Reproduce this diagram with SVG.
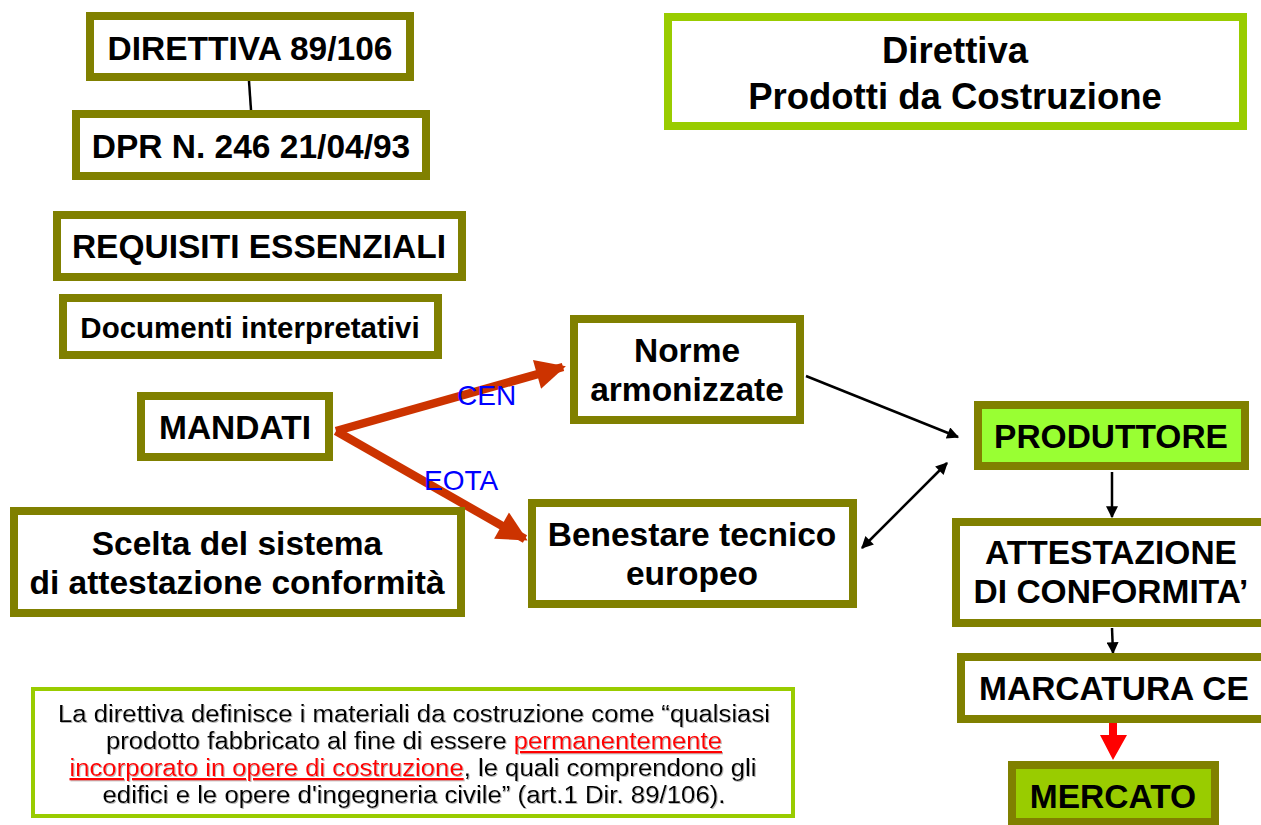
<svg xmlns="http://www.w3.org/2000/svg" width="1261" height="825" viewBox="0 0 1261 825">
<defs>
<style>
.box{fill:#fff;stroke:#808000;stroke-width:8}
.tb{font-family:"Liberation Sans",Arial,sans-serif;font-weight:bold;font-size:33.5px;fill:#000;text-anchor:middle}
.lbl{font-family:"Liberation Sans",Arial,sans-serif;font-size:28px;fill:#0000FF}
.note{font-family:"Liberation Sans",Arial,sans-serif;font-size:23.5px;fill:#000;text-anchor:middle}
.red{fill:#FF0000;text-decoration:underline}
.blk{stroke:#000;stroke-width:2.5;fill:none}
.rarrow{stroke:#CC3300;stroke-width:8.5;fill:none}
</style>
<marker id="ah" viewBox="0 0 10 10" refX="9" refY="5" markerWidth="14" markerHeight="12" markerUnits="userSpaceOnUse" orient="auto-start-reverse">
<path d="M0,0 L10,5 L0,10 z" fill="#000"/>
</marker>
<marker id="rah" viewBox="0 0 10 10" refX="9" refY="5" markerWidth="34" markerHeight="30" markerUnits="userSpaceOnUse" orient="auto">
<path d="M0,0 L10,5 L0,10 z" fill="#CC3300"/>
</marker>
<filter id="sh" x="-5%" y="-20%" width="110%" height="140%">
<feDropShadow dx="1" dy="1" stdDeviation="0.6" flood-color="#999" flood-opacity="0.7"/>
</filter>
</defs>
<rect width="1261" height="825" fill="#fff"/>

<g id="connectors">
<line class="blk" x1="249" y1="81" x2="251" y2="110"/>
<line class="blk" x1="806" y1="376" x2="958" y2="437" marker-end="url(#ah)"/>
<line class="blk" x1="862" y1="548" x2="947" y2="463" marker-start="url(#ah)" marker-end="url(#ah)"/>
<line class="blk" x1="1112" y1="472" x2="1112" y2="517" marker-end="url(#ah)"/>
<line class="blk" x1="1112" y1="628" x2="1113" y2="653" marker-end="url(#ah)"/>
<line class="rarrow" x1="336" y1="431" x2="563" y2="367" marker-end="url(#rah)"/>
<line class="rarrow" x1="336" y1="431" x2="525" y2="539" marker-end="url(#rah)"/>
<path d="M1109,723 H1117 V735 H1127 L1113,760 L1100,735 H1109 Z" fill="#FF0000"/>
<text class="lbl" x="457" y="405">CEN</text>
<text class="lbl" x="424" y="490">EOTA</text>
</g>

<g id="direttiva">
<rect class="box" x="90" y="16" width="320" height="61"/>
<text class="tb" x="250" y="60">DIRETTIVA 89/106</text>
</g>
<g id="dpr">
<rect class="box" x="76" y="114" width="350" height="62"/>
<text class="tb" x="251" y="158">DPR N. 246 21/04/93</text>
</g>
<g id="requisiti">
<rect class="box" x="57" y="215" width="405" height="62"/>
<text class="tb" x="259" y="258">REQUISITI ESSENZIALI</text>
</g>
<g id="documenti">
<rect class="box" x="63" y="298" width="375" height="57"/>
<text class="tb" x="250" y="338" style="font-size:29.5px">Documenti interpretativi</text>
</g>
<g id="mandati">
<rect class="box" x="141" y="396" width="188" height="61"/>
<text class="tb" x="235" y="439">MANDATI</text>
</g>
<g id="norme">
<rect class="box" x="574" y="319" width="226" height="101"/>
<text class="tb" x="687" y="362">Norme</text>
<text class="tb" x="687" y="401">armonizzate</text>
</g>
<g id="benestare">
<rect class="box" x="532" y="503" width="321" height="101"/>
<text class="tb" x="692" y="546">Benestare tecnico</text>
<text class="tb" x="692" y="585">europeo</text>
</g>
<g id="scelta">
<rect class="box" x="14" y="511" width="447" height="102"/>
<text class="tb" x="237" y="555">Scelta del sistema</text>
<text class="tb" x="237" y="594">di attestazione conformità</text>
</g>
<g id="titolo">
<rect x="668" y="17" width="575" height="109" fill="#fff" stroke="#99CC00" stroke-width="8"/>
<text class="tb" x="955" y="63" style="font-size:36.5px">Direttiva</text>
<text class="tb" x="955" y="109" style="font-size:36.5px">Prodotti da Costruzione</text>
</g>
<g id="produttore">
<rect x="978" y="405" width="267" height="61" fill="#99FF33" stroke="#808000" stroke-width="8"/>
<text class="tb" x="1111" y="448">PRODUTTORE</text>
</g>
<g id="attestazione">
<rect class="box" x="956" y="522" width="320" height="101"/>
<text class="tb" x="1111" y="564">ATTESTAZIONE</text>
<text class="tb" x="1111" y="603">DI CONFORMITA’</text>
</g>
<g id="marcatura">
<rect class="box" x="961" y="657" width="315" height="62"/>
<text class="tb" x="1114" y="700">MARCATURA CE</text>
</g>
<g id="mercato">
<rect x="1012" y="765" width="203" height="57" fill="#99CC00" stroke="#808000" stroke-width="8"/>
<text class="tb" x="1113" y="808">MERCATO</text>
</g>
<g id="nota">
<rect x="33" y="689" width="760" height="127" fill="#fff" stroke="#99CC00" stroke-width="4"/>
<g filter="url(#sh)">
<text class="note" x="414" y="722" textLength="712" lengthAdjust="spacingAndGlyphs">La direttiva definisce i materiali da costruzione come “qualsiasi</text>
<text class="note" x="414" y="749" textLength="616" lengthAdjust="spacingAndGlyphs">prodotto fabbricato al fine di essere <tspan class="red">permanentemente</tspan></text>
<text class="note" x="413" y="776" textLength="687" lengthAdjust="spacingAndGlyphs"><tspan class="red">incorporato in opere di costruzione</tspan>, le quali comprendono gli</text>
<text class="note" x="414" y="803" textLength="623" lengthAdjust="spacingAndGlyphs">edifici e le opere d'ingegneria civile” (art.1 Dir. 89/106).</text>
</g>
</g>
</svg>
